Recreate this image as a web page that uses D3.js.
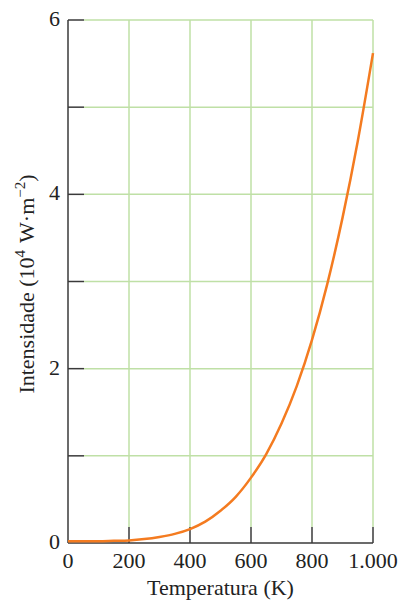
<!DOCTYPE html>
<html>
<head>
<meta charset="utf-8">
<script src="https://cdn.jsdelivr.net/npm/d3@7"></script>
<style>
body { margin: 0; background: #fff; }
text { font-family: "Liberation Serif", "DejaVu Serif", serif; fill: #222; }
</style>
</head>
<body>
<div id="chart"></div>
<script>
width = 403
height = 600

// temperatura (K) e intensidade (10^4 W/m^2)
let temps = [0, 50, 100, 150, 200, 250, 300, 350, 400, 450, 500, 550, 600, 650, 700, 750, 800, 850, 900, 950, 1000]
let intens = [0.02, 0.02, 0.02, 0.025, 0.03, 0.045, 0.07, 0.105, 0.16, 0.245, 0.37, 0.53, 0.75, 1.02, 1.37, 1.80, 2.33, 2.97, 3.73, 4.61, 5.62]
let xTicks = [0, 200, 400, 600, 800, 1000]
let xTickLabels = ["0", "200", "400", "600", "800", "1.000"]
let yTicks = [0, 1, 2, 3, 4, 5, 6]
let yTickLabels = ["0", "", "2", "", "4", "", "6"]

let margin = {left: 68, right: 30, top: 20, bottom: 57}

let svg = d3.select("#chart")
    .append("svg")
    .attr("width", width)
    .attr("height", height)

let x = d3.scaleLinear().domain([0, 1000]).range([margin.left, width - margin.right])
let y = d3.scaleLinear().domain([0, 6]).range([height - margin.bottom, margin.top])

let green = "#bfe0a6"
let axisColor = "#3a3a3a"
let tickLen = 16

// grade
svg.append("g").selectAll("line")
    .data(xTicks.slice(1))
    .join("line")
    .attr("x1", d => x(d)).attr("x2", d => x(d))
    .attr("y1", y(0) - tickLen).attr("y2", y(6))
    .attr("stroke", green).attr("stroke-width", 1.5)

svg.append("g").selectAll("line")
    .data(yTicks.slice(1))
    .join("line")
    .attr("x1", x(0) + tickLen).attr("x2", x(1000))
    .attr("y1", d => y(d)).attr("y2", d => y(d))
    .attr("stroke", green).attr("stroke-width", 1.5)

// eixos
svg.append("line")
    .attr("x1", x(0)).attr("x2", x(0))
    .attr("y1", y(0)).attr("y2", y(6))
    .attr("stroke", axisColor).attr("stroke-width", 1.5)
svg.append("line")
    .attr("x1", x(0)).attr("x2", x(1000))
    .attr("y1", y(0)).attr("y2", y(0))
    .attr("stroke", axisColor).attr("stroke-width", 1.5)

svg.append("g").selectAll("line")
    .data(xTicks.slice(1))
    .join("line")
    .attr("x1", d => x(d)).attr("x2", d => x(d))
    .attr("y1", y(0)).attr("y2", y(0) - tickLen)
    .attr("stroke", axisColor).attr("stroke-width", 1.5)

svg.append("g").selectAll("line")
    .data(yTicks.slice(1))
    .join("line")
    .attr("x1", x(0)).attr("x2", x(0) + tickLen)
    .attr("y1", d => y(d)).attr("y2", d => y(d))
    .attr("stroke", axisColor).attr("stroke-width", 1.5)

// rótulos
svg.append("g").selectAll("text")
    .data(xTicks)
    .join("text")
    .attr("x", d => x(d))
    .attr("y", y(0) + 25)
    .attr("text-anchor", "middle")
    .style("font-size", "22px")
    .text((d, i) => xTickLabels[i])

svg.append("g").selectAll("text")
    .data(yTicks)
    .join("text")
    .attr("x", x(0) - 8)
    .attr("y", d => y(d) + 6)
    .attr("text-anchor", "end")
    .style("font-size", "22px")
    .text((d, i) => yTickLabels[i])

svg.append("text")
    .attr("x", (x(0) + x(1000)) / 2)
    .attr("y", height - 5)
    .attr("text-anchor", "middle")
    .style("font-size", "22px")
    .text("Temperatura (K)")

let yLabel = svg.append("text")
    .attr("transform", "translate(34," + 284 + ") rotate(-90)")
    .attr("text-anchor", "middle")
    .style("font-size", "22px")
yLabel.append("tspan").text("Intensidade (10")
yLabel.append("tspan").attr("dy", -9).style("font-size", "15px").text("4")
yLabel.append("tspan").attr("dy", 9).attr("dx", 7).text("W·m")
yLabel.append("tspan").attr("dy", -9).style("font-size", "15px").text("−2")
yLabel.append("tspan").attr("dy", 9).text(")")

// curva
let line = d3.line()
    .x((d, i) => x(temps[i]))
    .y(d => y(d))
    .curve(d3.curveMonotoneX)

svg.append("path")
    .datum(intens)
    .attr("d", line)
    .attr("fill", "none")
    .attr("stroke", "#f47b20")
    .attr("stroke-width", 2.5)
</script>
</body>
</html>
